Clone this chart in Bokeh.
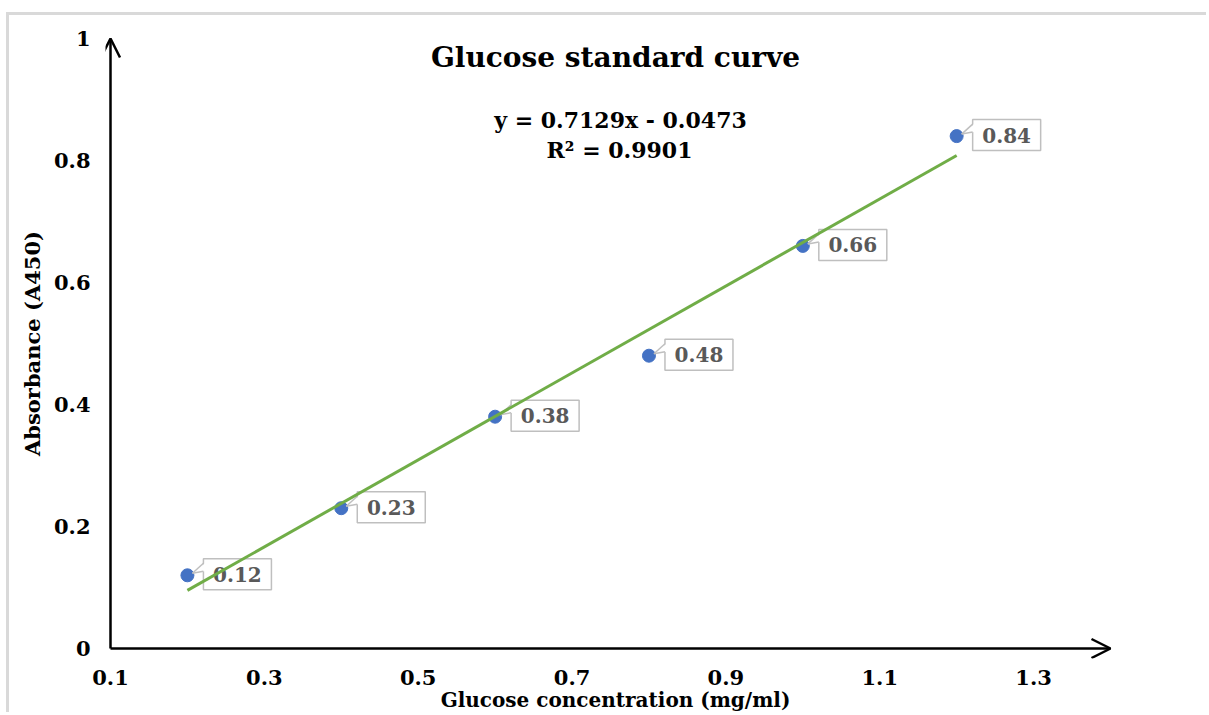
import numpy as np
from bokeh.plotting import figure
from bokeh.models import Range1d, FixedTicker, Label, Arrow, OpenHead, ColumnDataSource
from bokeh.core.properties import value
from bokeh.embed import file_html
from bokeh.resources import INLINE

# ---- data ----
concentration = [0.2, 0.4, 0.6, 0.8, 1.0, 1.2]
absorbance = [0.12, 0.23, 0.38, 0.48, 0.66, 0.84]
point_labels = ["0.12", "0.23", "0.38", "0.48", "0.66", "0.84"]
fit_slope = 0.7129
fit_intercept = -0.0473
r_squared = 0.9901
x_ticks = [0.1, 0.3, 0.5, 0.7, 0.9, 1.1, 1.3]
x_tick_labels = ["0.1", "0.3", "0.5", "0.7", "0.9", "1.1", "1.3"]
y_ticks = [0, 0.2, 0.4, 0.6, 0.8, 1]
y_tick_labels = ["0", "0.2", "0.4", "0.6", "0.8", "1"]
title_text = "Glucose standard curve"
x_title = "Glucose concentration (mg/ml)"
y_title = "Absorbance (A450)"

# ---- layout ----
AX_X0, AX_X1 = 0.1, 1.4      # axis arrow extent
AX_Y0, AX_Y1 = 0.0, 1.0
PXX = 1000 / 1.3             # pixels per x unit
PXY = 610 / 1.0              # pixels per y unit
FW, FH = 1020, 630
MB_L, MB_T = 96, 13
MB_R = 1200 - MB_L - FW
MB_B = 700 - MB_T - FH
X0 = AX_X0 - 5 / PXX
Y0 = AX_Y0 - 10 / PXY
X1 = X0 + FW / PXX
Y1 = Y0 + FH / PXY
FONT = "DejaVu Serif"

p = figure(width=MB_L + FW + MB_R, height=MB_T + FH + MB_B,
           x_range=Range1d(X0, X1), y_range=Range1d(Y0, Y1),
           output_backend="svg", toolbar_location=None,
           min_border_left=MB_L, min_border_right=MB_R,
           min_border_top=MB_T, min_border_bottom=MB_B)
p.margin = (12, 0, 0, 6)
p.styles = {"border-top": "3px solid #d9d9d9", "border-left": "3px solid #d9d9d9"}
p.outline_line_color = None
p.xgrid.visible = False
p.ygrid.visible = False
p.background_fill_color = "white"
p.border_fill_color = "white"

for ax, ticks, labels in ((p.xaxis[0], x_ticks, x_tick_labels), (p.yaxis[0], y_ticks, y_tick_labels)):
    ax.ticker = FixedTicker(ticks=ticks)
    ax.major_label_overrides = {t: l for t, l in zip(ticks, labels)}
    ax.axis_line_color = None
    ax.major_tick_line_color = None
    ax.minor_tick_line_color = None
    ax.major_tick_out = 0
    ax.major_tick_in = 0
    ax.major_label_text_font = FONT
    ax.major_label_text_font_style = "bold"
    ax.major_label_text_font_size = "21px"
    ax.major_label_text_color = "black"
    ax.axis_label_text_font = FONT
    ax.axis_label_text_font_style = "bold"
    ax.axis_label_text_color = "black"
p.xaxis[0].axis_label_text_font_size = "20px"
p.yaxis[0].axis_label_text_font_size = "21px"
p.xaxis[0].major_label_standoff = 11
p.yaxis[0].major_label_standoff = 15
p.xaxis[0].axis_label = x_title
p.yaxis[0].axis_label = y_title
p.xaxis[0].axis_label_standoff = 0
p.yaxis[0].axis_label_standoff = 6

# axes with arrow heads
p.add_layout(Arrow(end=OpenHead(size=19, line_width=2.5, line_color="black"),
                   x_start=AX_X0, y_start=AX_Y0, x_end=AX_X1, y_end=AX_Y0,
                   line_width=2.5, line_color="black"))
p.add_layout(Arrow(end=OpenHead(size=19, line_width=2.5, line_color="black"),
                   x_start=AX_X0, y_start=AX_Y0, x_end=AX_X0, y_end=AX_Y1,
                   line_width=2.5, line_color="black"))

# markers
src = ColumnDataSource(dict(x=concentration, y=absorbance, t=point_labels))
p.scatter("x", "y", source=src, size=13, fill_color="#4472C4", line_color="#4472C4")

# data label boxes with callouts
BOX_GAP, BOX_W, BOX_H = 16, 68, 31
cx = [x + (BOX_GAP + BOX_W / 2) / PXX for x in concentration]
cy = [y + 1 / PXY for y in absorbance]
p.rect(cx, cy, width=BOX_W, height=BOX_H, width_units="screen", height_units="screen",
       fill_color="white", line_color="#bfbfbf", line_width=1.5)
wx, wy, s1x0, s1y0, s1x1, s1y1, s2x1, s2y1 = [], [], [], [], [], [], [], []
for x, y in zip(concentration, absorbance):
    bl = x + BOX_GAP / PXX
    ax_, ay_ = x + 5 / PXX, y + 2 / PXY
    wx.append([ax_, bl + 1.5 / PXX, bl + 1.5 / PXX])
    wy.append([ay_, y + 4 / PXY, y + 12 / PXY])
    s1x0.append(ax_); s1y0.append(ay_); s1x1.append(bl); s1y1.append(y + 12 / PXY)
    s2x1.append(bl); s2y1.append(y + 4 / PXY)
p.patches(wx, wy, fill_color="white", line_color=None)
p.segment(s1x0, s1y0, s1x1, s1y1, line_color="#bfbfbf", line_width=1.5)
p.segment(s1x0, s1y0, s2x1, s2y1, line_color="#bfbfbf", line_width=1.5)
p.text(cx, cy, text=point_labels, text_align="center", text_baseline="middle",
       text_font=value(FONT), text_font_style="bold", text_font_size="20px",
       text_color="#595959")

# linear trendline
tx = np.array([min(concentration), max(concentration)])
ty = fit_slope * tx + fit_intercept
p.line(tx, ty, line_color="#70AD47", line_width=3)

# title and equation
def lab(x_px, y_px, text, size):
    p.add_layout(Label(x=AX_X0 + (x_px - 110) / PXX, y=AX_Y0 + (648 - y_px) / PXY, text=text,
                       text_align="center", text_baseline="middle",
                       text_font=FONT, text_font_style="bold", text_font_size=size,
                       text_color="black"))

lab(615, 57, title_text, "28px")
lab(620, 119, f"y = {fit_slope}x - {abs(fit_intercept)}", "22px")
lab(619, 149, f"R\u00b2 = {r_squared}", "22px")

open("out.html", "w").write(file_html(p, INLINE))
